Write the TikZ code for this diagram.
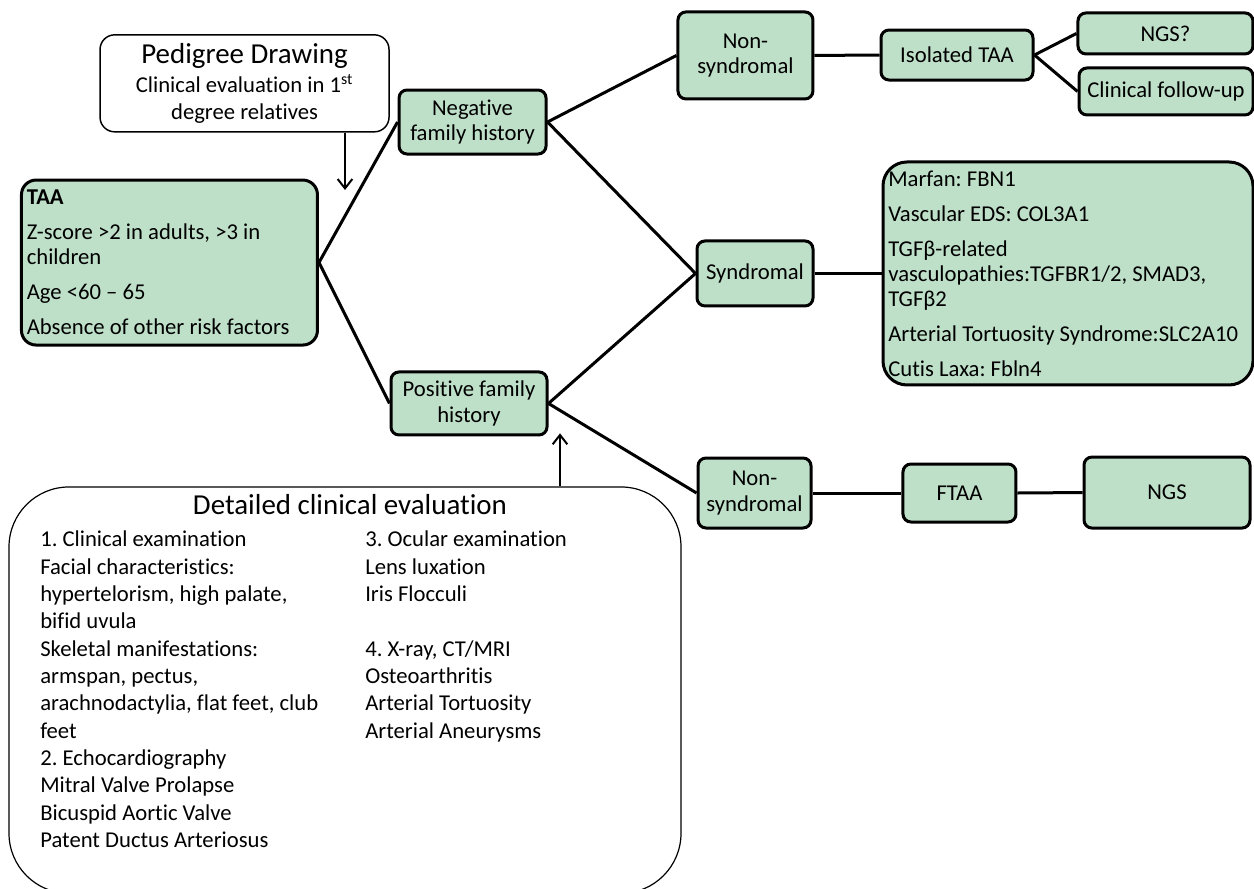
\documentclass[tikz,border=0pt]{standalone}
\usepackage{fontspec}
\setmainfont{Carlito}[Ligatures=NoCommon]
\usetikzlibrary{arrows.meta}
\definecolor{boxgreen}{RGB}{190,223,200}
\frenchspacing
\begin{document}
\begin{tikzpicture}[x=1pt,y=-1pt,
  gbox/.style={draw=black, line width=2.25pt, fill=boxgreen, rounded corners=6pt,
    inner sep=2pt, align=center, font=\fontsize{17}{19}\selectfont},
  wbox/.style={draw=black, line width=1.1pt, fill=white, rounded corners=11pt},
  conn/.style={line width=2.25pt},
  arr/.style={line width=1.5pt, -{Straight Barb[length=7pt,width=11pt,line width=1.5pt]}},
  coltext/.style={anchor=north west, inner sep=0pt, align=flush left, font=\fontsize{17}{20.5}\selectfont}
]
\useasboundingbox (0,0) rectangle (940.5,666.75);

% nodes
\node[wbox, minimum width=216.75pt, minimum height=72.75pt, align=center,
  font=\fontsize{17}{20.25}\selectfont] (ped) at (183.4,62.5)
  {{\fontsize{21.7}{23}\selectfont Pedigree Drawing}\\[2pt]Clinical evaluation in 1\textsuperscript{st}\\degree relatives};

\node[gbox, align=flush left, text width=214pt, minimum height=123.75pt, rounded corners=11pt,
  inner xsep=4pt, font=\fontsize{17}{18.75}\selectfont] (taa) at (127.1,196.9)
  {\textbf{TAA}\\[7.5pt]Z-score >2 in adults, >3 in\\children\\[7.5pt]Age <60 – 65\\[7.5pt]Absence of other risk factors};

\node[gbox, minimum width=110.25pt, minimum height=48pt] (neg) at (354.4,91.5) {Negative\\family history};
\node[gbox, minimum width=117pt, minimum height=47.25pt] (pos) at (351.75,302.6) {Positive family\\history};

\node[gbox, minimum width=101.25pt, minimum height=65.25pt] (nsa) at (559.1,41.6) {Non-\\syndromal};
\node[gbox, minimum width=114pt, minimum height=37.5pt] (iso) at (717.75,41.25) {Isolated TAA};
\node[gbox, minimum width=131.25pt, minimum height=30.75pt] (ngsq) at (874.1,25.1) {NGS?};
\node[gbox, minimum width=130.5pt, minimum height=35.25pt] (cfu) at (874.5,68.6) {Clinical follow-up};

\node[gbox, minimum width=87pt, minimum height=48.75pt] (syn) at (566.25,205.1) {Syndromal};
\node[gbox, align=flush left, text width=269.5pt, minimum height=167.25pt, rounded corners=18pt,
  inner xsep=4pt, font=\fontsize{17}{18.75}\selectfont] (genes) at (801,205.1)
  {Marfan: FBN1\\[7.5pt]Vascular EDS: COL3A1\\[7.5pt]TGFβ-related\\vasculopathies:TGFBR1/2, SMAD3,\\TGFβ2\\[7.5pt]Arterial Tortuosity Syndrome:SLC2A10\\[7.5pt]Cutis Laxa: Fbln4};

\node[gbox, minimum width=84.75pt, minimum height=52.5pt] (nsb) at (565.9,369.75) {Non-\\syndromal};
\node[gbox, minimum width=84.75pt, minimum height=43.5pt] (ftaa) at (719.6,369.75) {FTAA};
\node[gbox, minimum width=124.5pt, minimum height=53.25pt] (ngs) at (875.25,369.4) {NGS};

\node[wbox, line width=0.9pt, rounded corners=45pt, minimum width=504pt, minimum height=304.75pt] (det) at (258.75,517.6) {};
\node[font=\fontsize{21.7}{24}\selectfont] (dettitle) at (262.5,378.75) {Detailed clinical evaluation};
\node[coltext] (cola) at (30,398) {1. Clinical examination\\Facial characteristics:\\hypertelorism, high palate,\\bifid uvula\\Skeletal manifestations:\\armspan, pectus,\\arachnodactylia, flat feet, club\\feet\\2. Echocardiography\\Mitral Valve Prolapse\\Bicuspid Aortic Valve\\Patent Ductus Arteriosus};
\node[coltext] (colb) at (273.75,398) {3. Ocular examination\\Lens luxation\\Iris Flocculi\\[20.5pt]4. X-ray, CT/MRI\\Osteoarthritis\\Arterial Tortuosity\\Arterial Aneurysms};

% connectors
\draw[conn] (taa.east) -- (neg.west);
\draw[conn] (taa.east) -- (pos.west);
\draw[conn] (neg.east) -- (nsa.west);
\draw[conn] (neg.east) -- (syn.west);
\draw[conn] (pos.east) -- (syn.west);
\draw[conn] (pos.east) -- (nsb.west);
\draw[conn] (nsa.east) -- (iso.west);
\draw[conn] (iso.east) -- (ngsq.west);
\draw[conn] (iso.east) -- (cfu.west);
\draw[conn] (syn.east) -- (genes.west);
\draw[conn] (nsb.east) -- (ftaa.west);
\draw[conn] (ftaa.east) -- (ngs.west);

% arrows
\coordinate (pedtip) at (258.75,142.5);
\draw[arr] (ped.south -| pedtip) -- (pedtip);
\coordinate (dettip) at (420,325);
\draw[arr] (det.north -| dettip) -- (dettip);
\end{tikzpicture}
\end{document}
